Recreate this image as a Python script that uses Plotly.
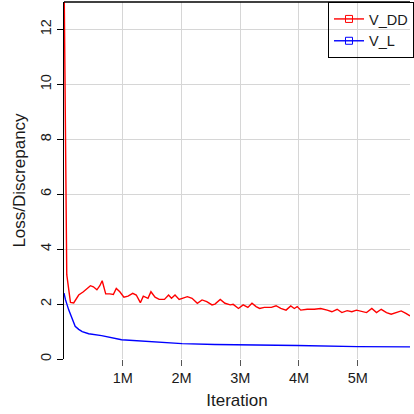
import plotly.graph_objects as go

# Iteration (millions) and values
vdd_x = [0.0, 0.047, 0.11, 0.165, 0.25, 0.33, 0.45, 0.5, 0.56, 0.61, 0.65, 0.71, 0.78, 0.84,
         0.89, 0.95, 1.02, 1.09, 1.17, 1.23, 1.30, 1.35, 1.43, 1.48, 1.55, 1.62, 1.71, 1.78,
         1.83, 1.89, 1.96, 2.02, 2.10, 2.18, 2.27, 2.35, 2.43, 2.52, 2.57, 2.66, 2.74, 2.83,
         2.88, 2.97, 3.05, 3.13, 3.20, 3.27, 3.33, 3.41, 3.53, 3.61, 3.69, 3.78, 3.86, 3.92,
         3.97, 4.03, 4.14, 4.26, 4.37, 4.48, 4.56, 4.65, 4.73, 4.82, 4.90, 4.98, 5.07, 5.15,
         5.24, 5.32, 5.40, 5.49, 5.57, 5.66, 5.74, 5.82, 5.89]
vdd_y = [14.2, 3.07, 2.06, 2.04, 2.33, 2.45, 2.67, 2.63, 2.52, 2.67, 2.85, 2.37, 2.37, 2.35,
         2.57, 2.45, 2.25, 2.29, 2.39, 2.33, 2.05, 2.29, 2.21, 2.45, 2.25, 2.17, 2.17, 2.33,
         2.21, 2.33, 2.17, 2.21, 2.27, 2.21, 2.03, 2.15, 2.09, 1.97, 2.00, 2.17, 2.03, 1.97,
         1.99, 1.84, 1.97, 1.88, 2.03, 1.91, 1.84, 1.88, 1.88, 1.94, 1.84, 1.78, 1.93, 1.84,
         1.91, 1.78, 1.81, 1.81, 1.84, 1.78, 1.72, 1.81, 1.69, 1.76, 1.72, 1.78, 1.72, 1.69,
         1.84, 1.69, 1.81, 1.69, 1.63, 1.69, 1.75, 1.66, 1.57]

vl_x = [0.0, 0.025, 0.08, 0.14, 0.19, 0.25, 0.31, 0.42, 0.64, 0.98, 1.32, 1.62, 2.01, 2.57,
        3.0, 3.97, 5.0, 5.89]
vl_y = [2.40, 2.16, 1.79, 1.43, 1.19, 1.08, 1.00, 0.92, 0.85, 0.70, 0.65, 0.60, 0.56, 0.53,
        0.51, 0.49, 0.45, 0.44]

x_tickvals = [1, 2, 3, 4, 5]
x_ticktext = ["1M", "2M", "3M", "4M", "5M"]
y_tickvals = [0, 2, 4, 6, 8, 10, 12]

FONT = "Liberation Sans, Arial, sans-serif"

fig = go.Figure()
fig.add_trace(go.Scatter(x=vdd_x, y=vdd_y, mode="lines", line=dict(color="red", width=1.4),
                         showlegend=False))
fig.add_trace(go.Scatter(x=vl_x, y=vl_y, mode="lines", line=dict(color="blue", width=1.4),
                         showlegend=False))
# legend entries
fig.add_trace(go.Scatter(x=[None], y=[None], mode="lines+markers", name="V_DD",
                         line=dict(color="red", width=1.4),
                         marker=dict(symbol="square-open", size=7, color="red")))
fig.add_trace(go.Scatter(x=[None], y=[None], mode="lines+markers", name="V_L",
                         line=dict(color="blue", width=1.4),
                         marker=dict(symbol="square-open", size=7, color="blue")))

fig.update_layout(
    width=414, height=414,
    margin=dict(l=63.5, r=0, t=2, b=55),
    paper_bgcolor="white", plot_bgcolor="white",
    font=dict(family=FONT, size=14.5, color="#1a1a1a"),
    legend=dict(x=0.763, y=1, xanchor="left", yanchor="top",
                bgcolor="rgba(0,0,0,0)", bordercolor="black", borderwidth=1,
                font=dict(size=14.5, color="#1a1a1a"), tracegroupgap=0),
    xaxis=dict(range=[0, 5.89], tickvals=x_tickvals, ticktext=x_ticktext,
               showgrid=True, gridcolor="#d6d6d6", gridwidth=1,
               ticks="outside", ticklen=6, tickcolor="#555", tickwidth=1,
               zeroline=False, showline=False, automargin=False,
               title=dict(text="Iteration", standoff=8)),
    yaxis=dict(range=[0, 13], tickvals=y_tickvals,
               showgrid=True, gridcolor="#d6d6d6", gridwidth=1,
               ticks="outside", ticklen=6, tickcolor="black", tickwidth=1,
               tickangle=-90, zeroline=False, automargin=False,
               showline=True, linecolor="black", linewidth=1.3,
               title=dict(text="Loss/Discrepancy", standoff=8)),
    shapes=[dict(type="line", xref="paper", yref="paper", x0=0, x1=1, y0=1, y1=1,
                 line=dict(color="black", width=1.3))],
)

fig.write_html("out.html", config={"displayModeBar": False},
               post_script="document.body.style.margin='0';document.body.style.overflow='hidden';")
